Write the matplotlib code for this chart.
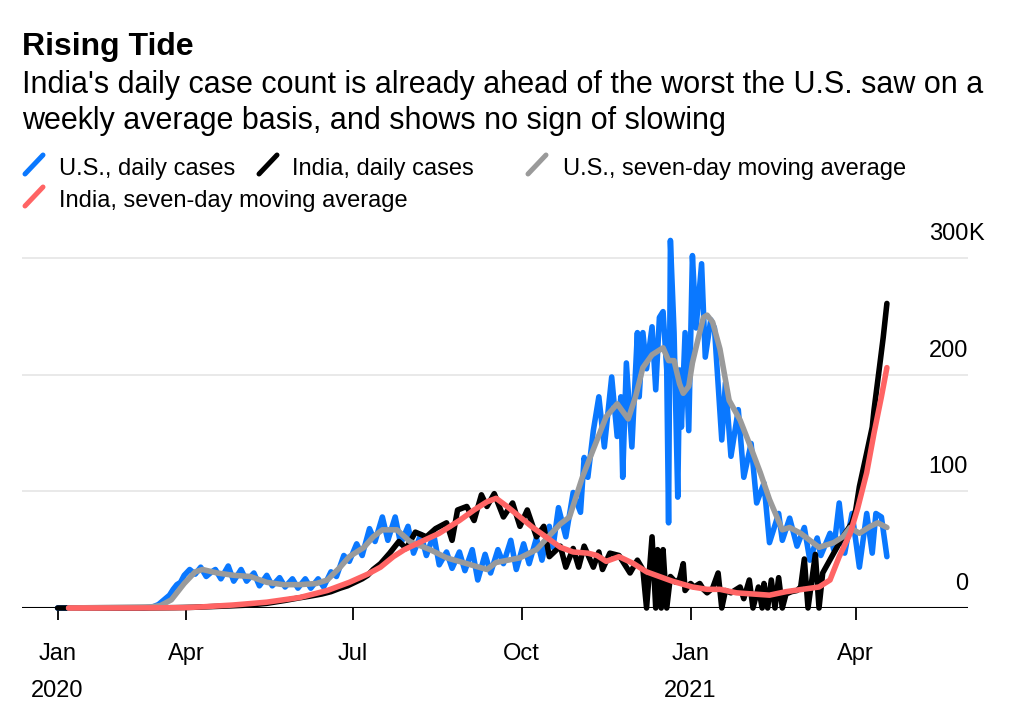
import matplotlib
matplotlib.use("Agg")
import matplotlib.pyplot as plt
import matplotlib.dates as mdates
import matplotlib.transforms as mtransforms
from matplotlib.lines import Line2D
import pandas as pd

plt.rcParams["font.family"] = ["Liberation Sans", "DejaVu Sans"]

START = pd.Timestamp("2020-01-01")

# day numbers count from 2020-01-01, values are thousands of cases
us_daily_day = [21, 68, 73, 76, 79, 82, 84, 86, 88, 90, 93, 96, 99, 102, 105,
                107, 110, 114, 117, 121, 124, 128, 131, 135, 138, 142, 145,
                149, 152, 156, 159, 163, 166, 170, 173, 177, 180, 184, 187,
                191, 194, 198, 201, 205, 208, 212, 215, 219, 222, 226, 229,
                233, 236, 240, 243, 247, 250, 254, 257, 261, 264, 268, 271,
                275, 278, 282, 285, 289, 291, 294, 298, 302, 306, 308, 310,
                313, 316, 319, 323, 326, 328, 329, 331, 334, 337, 338, 340,
                342, 345, 347, 349, 351, 353, 354, 355, 357, 359, 360, 361,
                363, 365, 367, 369, 372, 374, 377, 379, 383, 385, 388, 392,
                395, 399, 402, 406, 409, 414, 416, 420, 424, 428, 431, 435,
                437, 442, 444, 447, 450, 454, 458, 462, 465, 467, 470, 473]
us_daily_k = [0, 0, 1, 3, 7, 11, 16, 20, 22, 28, 33, 29, 35, 27, 31,
              33, 25, 36, 23, 33, 23, 30, 19, 28, 19, 26, 18,
              25, 17, 25, 17, 25, 18, 31, 27, 45, 40, 55, 45,
              68, 57, 78, 58, 78, 55, 70, 47, 63, 45, 63, 37,
              48, 34, 48, 32, 50, 24, 46, 30, 50, 38, 58, 33,
              55, 38, 60, 41, 70, 52, 86, 61, 99, 82, 129, 112,
              152, 181, 138, 198, 147, 181, 112, 210, 138, 236, 181, 236,
              205, 241, 187, 249, 254, 204, 73, 315, 236, 95, 204, 155,
              236, 152, 302, 240, 295, 215, 247, 240, 144, 193, 130, 170,
              112, 141, 90, 107, 56, 81, 58, 77, 53, 69, 41, 60,
              45, 64, 50, 90, 47, 81, 35, 81, 47, 81, 78, 44]

india_daily_day = [21, 65, 85, 95, 105, 115, 125, 135, 145, 152, 158, 165,
                   170, 175, 179, 183, 187, 190, 193, 197, 202, 207, 211,
                   216, 222, 227, 233, 236, 239, 244, 248, 252, 255, 259,
                   264, 269, 273, 277, 282, 286, 289, 295, 298, 302, 305,
                   308, 313, 316, 318, 322, 327, 333, 337, 340, 342, 345,
                   347, 348, 350, 351, 353, 355, 358, 360, 362, 363, 366,
                   368, 371, 373, 375, 378, 381, 383, 385, 388, 391, 393,
                   395, 398, 400, 403, 405, 406, 408, 410, 412, 414, 416,
                   418, 421, 424, 426, 428, 430, 434, 436, 438, 444, 449,
                   454, 456, 458, 462, 465, 466, 469, 471, 473]
india_daily_k = [0, 0, 0.3, 0.6, 1.2, 1.8, 2.5, 4, 6.5, 8.5, 10, 12,
                 14, 17, 19, 22, 25, 28, 33, 38, 47, 57, 51,
                 65, 61, 68, 73, 58, 84, 87, 75, 97, 87, 98,
                 78, 90, 70, 84, 61, 70, 44, 53, 35, 51, 35,
                 53, 35, 48, 33, 47, 45, 30, 41, 33, 0, 61,
                 0, 50, 0, 50, 0, 27, 22, 25, 38, 15, 21,
                 18, 21, 16, 13, 17, 30, 0, 15, 13, 16, 18,
                 8, 24, 0, 18, 0, 21, 0, 24, 0, 26, 0,
                 12, 14, 15, 18, 42, 0, 46, 0, 30, 47, 61,
                 73, 84, 104, 133, 155, 170, 207, 232, 261]

us_avg_day = [27, 72, 77, 83, 90, 96, 100, 108, 117, 126, 135, 144, 153,
              162, 168, 175, 180, 188, 193, 198, 206, 213, 224, 233, 244,
              255, 260, 273, 282, 289, 295, 300, 307, 315, 320, 326, 332,
              336, 340, 345, 351, 354, 357, 360, 362, 365, 367, 370, 373,
              375, 378, 382, 387, 393, 398, 404, 409, 416, 420, 426, 431,
              436, 444, 449, 453, 458, 464, 468, 473]
us_avg_k = [0, 1, 2, 7, 21, 31, 33, 30, 28, 27, 22, 20, 20,
            21, 24, 35, 44, 52, 61, 67, 67, 57, 50, 43, 38,
            33, 39, 43, 50, 62, 72, 78, 112, 144, 164, 175, 162,
            181, 206, 217, 223, 212, 212, 192, 184, 190, 210, 230, 249,
            251, 245, 222, 178, 161, 141, 116, 93, 67, 69, 64, 58,
            52, 56, 61, 69, 64, 70, 73, 69]

india_avg_day = [27, 65, 90, 100, 117, 135, 153, 168, 180, 190, 197, 204,
                 210, 218, 229, 240, 248, 255, 260, 266, 273, 280, 288,
                 295, 302, 310, 315, 320, 327, 335, 342, 349, 356, 367,
                 375, 382, 391, 400, 409, 418, 427, 436, 442, 447, 453,
                 457, 462, 466, 470, 473]
india_avg_k = [0, 0, 0.3, 1, 2.6, 5, 9, 15, 22, 29, 35, 44,
               50, 56, 64, 75, 84, 91, 94, 87, 78, 69, 60,
               52, 48, 47, 45, 40, 44, 38, 31, 27, 23, 18,
               16, 16, 13, 12, 11, 14, 16, 18, 24, 44, 64,
               85, 116, 150, 181, 206]

tick_days = [21, 91, 182, 274, 366, 456]
tick_months = ["Jan", "Apr", "Jul", "Oct", "Jan", "Apr"]
tick_years = {21: "2020", 366: "2021"}
y_labels = [0, 100, 200, 300]

BLUE = "#0a78ff"
GRAY = "#9a9a9a"
PINK = "#ff6464"
BLACK = "#000000"

series = [
    (us_daily_day, us_daily_k, BLUE, "U.S., daily cases"),
    (india_daily_day, india_daily_k, BLACK, "India, daily cases"),
    (us_avg_day, us_avg_k, GRAY, "U.S., seven-day moving average"),
    (india_avg_day, india_avg_k, PINK, "India, seven-day moving average"),
]


def to_dates(days):
    return START + pd.to_timedelta(days, unit="D")


W, H = 1012, 708
fig = plt.figure(figsize=(W / 100, H / 100), dpi=100)
ax = fig.add_axes([22 / W, (H - 608) / H, 946 / W, 373.4 / H])

for v in y_labels[1:]:
    ax.axhline(v, color="#e9e9e9", lw=1.4, zorder=1)
ax.axhline(0, color="black", lw=1.5, zorder=2)

for i, (d, k, c, lab) in enumerate(series):
    ax.plot(to_dates(d), k, color=c, lw=4.0, solid_joinstyle="round",
            solid_capstyle="round", zorder=3 + i, clip_on=False)

ax.set_xlim(START + pd.Timedelta(days=1.6), START + pd.Timedelta(days=517.2))
ax.set_ylim(0, 320)
for s in ax.spines.values():
    s.set_visible(False)
ax.set_yticks([])
ax.set_xticks(to_dates(tick_days))
ax.tick_params(axis="x", length=8.6, width=1.3, color="black",
               labelbottom=False)

px = 72 / 100
xtrans = ax.get_xaxis_transform()
month_tr = mtransforms.offset_copy(xtrans, fig=fig, y=-52 * px, units="points")
year_tr = mtransforms.offset_copy(xtrans, fig=fig, y=-89 * px, units="points")
for d, m in zip(tick_days, tick_months):
    x = mdates.date2num(START + pd.Timedelta(days=d))
    ax.text(x, 0, m, transform=month_tr, ha="center", va="baseline",
            fontsize=17)
    if d in tick_years:
        ax.text(x, 0, tick_years[d], transform=year_tr, ha="center",
                va="baseline", fontsize=17)

ytrans = mtransforms.offset_copy(ax.get_yaxis_transform(), fig=fig,
                                 y=18 * px, units="points")
for v in y_labels:
    ax.text(1.0, v, str(v), transform=ytrans, ha="right", va="baseline",
            fontsize=17)
ax.text(1.0, 300, "K", transform=ytrans, ha="left", va="baseline",
        fontsize=17)

# header and legend, positioned in pixels from the top left
def fx(x):
    return x / W


def fy(y):
    return 1 - y / H


fig.text(fx(22), fy(55), "Rising Tide", fontsize=23, fontweight="bold",
         va="baseline")
fig.text(fx(22), fy(93), "India's daily case count is already ahead of the "
         "worst the U.S. saw on a", fontsize=22.0, va="baseline")
fig.text(fx(22), fy(129), "weekly average basis, and shows no sign of slowing",
         fontsize=22.0, va="baseline")

legend_pos = [(25, 175, 59), (259, 175, 292), (528, 175, 563), (25, 207, 59)]
for (x0, base, tx), (_, _, c, lab) in zip(legend_pos, series):
    fig.add_artist(Line2D([fx(x0), fx(x0 + 18)], [fy(base - 1), fy(base - 20)],
                          transform=fig.transFigure, color=c, lw=3.6,
                          solid_capstyle="round"))
    fig.text(fx(tx), fy(base), lab, fontsize=17.0, va="baseline")

fig.savefig("out.png", dpi=100)
